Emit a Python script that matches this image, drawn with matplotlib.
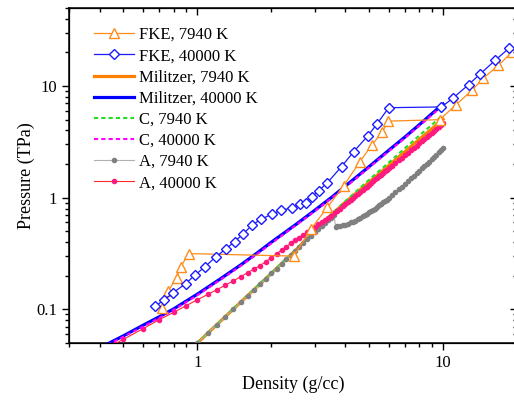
import matplotlib
matplotlib.use("Agg")
import matplotlib.pyplot as plt
from matplotlib.ticker import NullFormatter, FixedLocator, LogLocator

plt.rcParams['font.family'] = ['Liberation Serif', 'DejaVu Serif']

# FKE data (open markers)
fke_7940_rho = [0.72, 0.76, 0.822, 0.855, 0.92, 2.47, 2.89, 3.38, 3.94, 4.57, 5.14, 5.65, 5.98,
                9.69, 11.3, 13.1, 14.6, 16.8, 19.1]
fke_7940_p = [0.103, 0.146, 0.192, 0.24, 0.316, 0.30, 0.52, 0.82, 1.28, 2.08, 2.98, 3.86, 4.85,
              5.0, 6.8, 9.15, 11.8, 15.3, 20.2]

fke_40000_rho = [0.671, 0.732, 0.796, 0.896, 0.975, 1.074, 1.187, 1.31, 1.42, 1.54, 1.67, 1.82,
                 2.02, 2.18, 2.43, 2.61, 2.76, 2.93, 3.12, 3.38, 3.86, 4.33, 4.94, 5.36, 6.01,
                 9.85, 10.98, 12.7, 14.2, 16.3, 18.5]
fke_40000_p = [0.107, 0.121, 0.141, 0.170, 0.202, 0.241, 0.295, 0.35, 0.405, 0.478, 0.568, 0.645,
               0.714, 0.772, 0.808, 0.875, 0.90, 1.02, 1.16, 1.36, 1.90, 2.59, 3.58, 4.53, 6.40,
               6.5, 7.8, 10.3, 12.9, 17.0, 21.7]

# Militzer curves
mil_7940_rho = [1.0, 1.2, 1.5, 2.0, 2.5, 3.0, 3.5, 4.0, 5.0, 6.0, 7.0, 8.0, 9.0, 10.0]
mil_7940_p = [0.050, 0.073, 0.116, 0.21, 0.335, 0.50, 0.70, 0.91, 1.38, 1.94, 2.59, 3.33, 4.14, 5.05]

mil_40000_rho = [0.43, 0.5, 0.6, 0.7, 0.8, 1.0, 1.25, 1.5, 1.75, 2.0, 2.5, 3.0, 3.5, 4.0, 5.0,
                 6.0, 7.0, 8.0, 9.0, 10.0]
mil_40000_p = [0.049, 0.058, 0.072, 0.086, 0.101, 0.137, 0.19, 0.25, 0.32, 0.40, 0.57, 0.77, 1.0,
               1.27, 1.9, 2.65, 3.5, 4.5, 5.65, 6.9]

# C model
c_7940_rho = [1.0, 1.5, 2.0, 2.5, 3.0, 3.5, 4.0, 5.0, 6.0, 7.0, 8.0, 9.0, 10.0]
c_7940_p = [0.050, 0.117, 0.212, 0.34, 0.50, 0.71, 0.93, 1.45, 2.06, 2.78, 3.6, 4.5, 5.5]

c_40000_rho = [0.43, 0.5, 0.6, 0.7, 0.8, 1.0, 1.25, 1.5, 1.75, 2.0, 2.5, 3.0, 3.5, 4.0, 5.0,
               6.0, 7.0, 8.0, 9.0, 10.0]
c_40000_p = [0.048, 0.057, 0.070, 0.084, 0.099, 0.134, 0.186, 0.245, 0.313, 0.39, 0.56, 0.755,
             0.98, 1.24, 1.86, 2.6, 3.43, 4.4, 5.5, 6.7]

# A model
a_7940_rho = [1.0, 1.1, 1.2, 1.3, 1.4, 1.5, 1.6, 1.7, 1.8, 1.9, 2.0, 2.1, 2.2, 2.3, 2.4, 2.5,
              2.6, 2.7, 2.8, 2.9, 3.0, 3.1, 3.2, 3.3, 3.4, 3.5, 3.6, 3.65,
              3.7, 3.8, 3.9, 4.0, 4.1, 4.2, 4.3, 4.4, 4.5, 4.6, 4.7, 4.8, 4.9, 5.0, 5.1, 5.2,
              5.3, 5.4, 5.5, 5.6, 5.7, 5.8, 5.9, 6.0, 6.2, 6.4, 6.6, 6.8, 7.0, 7.2, 7.4, 7.6,
              7.8, 8.0, 8.2, 8.4, 8.6, 8.8, 9.0, 9.2, 9.4, 9.6, 9.8, 10.0]
a_7940_p = [0.050, 0.061, 0.073, 0.086, 0.10, 0.116, 0.132, 0.149, 0.168, 0.188, 0.21, 0.232,
            0.256, 0.28, 0.306, 0.333, 0.362, 0.392, 0.423, 0.455, 0.49, 0.525, 0.56, 0.595,
            0.63, 0.665, 0.70, 0.55,
            0.555, 0.56, 0.565, 0.575, 0.585, 0.60, 0.61, 0.625, 0.64, 0.66, 0.68, 0.70, 0.72,
            0.74, 0.76, 0.78, 0.80, 0.83, 0.86, 0.885, 0.91, 0.935, 0.96, 0.99, 1.05, 1.12,
            1.19, 1.26, 1.33, 1.41, 1.49, 1.57, 1.65, 1.74, 1.83, 1.92, 2.01, 2.11, 2.21, 2.32,
            2.43, 2.55, 2.67, 2.8]

a_40000_rho = [0.46, 0.5, 0.6, 0.7, 0.8, 0.9, 1.0, 1.1, 1.2, 1.3, 1.4, 1.5, 1.6, 1.7, 1.8, 1.9,
               2.0, 2.1, 2.2, 2.3, 2.4, 2.5, 2.6, 2.7, 2.8, 2.9, 3.0, 3.1, 3.2, 3.3, 3.4, 3.5,
               3.6, 3.7, 3.8, 3.9, 4.0, 4.1, 4.2, 4.3, 4.4, 4.5, 4.6, 4.7, 4.8, 4.9, 5.0, 5.1,
               5.2, 5.3, 5.4, 5.5, 5.6, 5.7, 5.8, 5.9, 6.0, 6.2, 6.4, 6.6, 6.8, 7.0, 7.2, 7.4,
               7.6, 7.8, 8.0, 8.2, 8.4, 8.6, 8.8, 9.0, 9.2, 9.4, 9.6, 9.8, 10.0]
a_40000_p = [0.049, 0.054, 0.067, 0.081, 0.094, 0.108, 0.122, 0.136, 0.150, 0.165, 0.180, 0.196,
             0.213, 0.23, 0.247, 0.268, 0.29, 0.315, 0.34, 0.365, 0.39, 0.415, 0.44, 0.465,
             0.49, 0.52, 0.55, 0.58, 0.61, 0.635, 0.66, 0.69,
             0.726, 0.763, 0.80, 0.84, 0.88, 0.92, 0.96, 1.0, 1.04, 1.08, 1.13, 1.17, 1.22,
             1.26, 1.31, 1.36, 1.41, 1.46, 1.51, 1.56, 1.61, 1.66, 1.72, 1.77, 1.83, 1.94,
             2.05, 2.17, 2.29, 2.42, 2.54, 2.67, 2.80, 2.93, 3.07, 3.21, 3.35, 3.50, 3.65,
             3.80, 3.95, 4.10, 4.26, 4.45, 4.68]

fig = plt.figure(figsize=(5.14, 4.01), dpi=100)
ax = fig.add_axes([69 / 514, 58 / 401, 448 / 514, 335 / 401])

ax.plot(mil_7940_rho, mil_7940_p, color='#ff7f00', lw=2.3, label='Militzer, 7940 K', zorder=3)
ax.plot(c_7940_rho, c_7940_p, color='#22dd22', lw=1.5, ls=(0, (2, 1.5)), label='C, 7940 K', zorder=4)
ax.plot(a_7940_rho, a_7940_p, color='#b0b0b0', lw=0.8, marker='o', ms=3.0,
        mfc='#808080', mec='#808080', label='A, 7940 K', zorder=4)
ax.plot(a_40000_rho, a_40000_p, color='#ff2a2a', lw=0.8, marker='o', ms=3.0,
        mfc='#ff1a80', mec='#ff1a80', label='A, 40000 K', zorder=4)
ax.plot(mil_40000_rho, mil_40000_p, color='#0000ff', lw=2.3, label='Militzer, 40000 K', zorder=3)
ax.plot(c_40000_rho, c_40000_p, color='#ff00ff', lw=1.5, ls=(0, (2, 1.5)), label='C, 40000 K', zorder=4)
ax.plot(fke_7940_rho, fke_7940_p, color='#ff8c1a', lw=0.9, marker='^', ms=7,
        mfc='white', mec='#ff8c1a', mew=1.0, label='FKE, 7940 K', zorder=5)
ax.plot(fke_40000_rho, fke_40000_p, color='#1a1aff', lw=0.9, marker='D', ms=5.5,
        mfc='white', mec='#1a1aff', mew=1.0, label='FKE, 40000 K', zorder=5)

ax.set_xscale('log')
ax.set_yscale('log')
ax.set_xlim(0.3, 20)
ax.set_ylim(0.05, 50)

ax.xaxis.set_major_locator(FixedLocator([1, 10]))
ax.set_xticklabels(['1', '10'])
ax.xaxis.set_minor_locator(LogLocator(base=10, subs=range(2, 10)))
ax.xaxis.set_minor_formatter(NullFormatter())
ax.yaxis.set_major_locator(FixedLocator([0.1, 1, 10]))
ax.set_yticklabels(['0.1', '1', '10'])
ax.yaxis.set_minor_locator(LogLocator(base=10, subs=range(2, 10)))
ax.yaxis.set_minor_formatter(NullFormatter())

ax.tick_params(which='major', direction='out', length=5, width=1, labelsize=12)
ax.tick_params(which='minor', direction='out', length=3, width=1)
for s in ax.spines.values():
    s.set_linewidth(1.1)

# mirrored ticks pointing inward on top and right
axt = ax.twiny()
axt.set_xscale('log')
axt.set_xlim(ax.get_xlim())
axt.xaxis.set_major_locator(FixedLocator([1, 10]))
axt.xaxis.set_minor_locator(LogLocator(base=10, subs=range(2, 10)))
axt.tick_params(which='major', direction='in', length=5, width=1, labeltop=False)
axt.tick_params(which='minor', direction='in', length=3, width=1)
axr = ax.twinx()
axr.set_yscale('log')
axr.set_ylim(ax.get_ylim())
axr.yaxis.set_major_locator(FixedLocator([0.1, 1, 10]))
axr.yaxis.set_minor_locator(LogLocator(base=10, subs=range(2, 10)))
axr.tick_params(which='major', direction='in', length=5, width=1, labelright=False)
axr.tick_params(which='minor', direction='in', length=3, width=1)

ax.set_xlabel('Density (g/cc)', fontsize=13, labelpad=3.5)
ax.set_ylabel('Pressure (TPa)', fontsize=13, labelpad=1)

handles, labels = ax.get_legend_handles_labels()
order = ['FKE, 7940 K', 'FKE, 40000 K', 'Militzer, 7940 K', 'Militzer, 40000 K',
         'C, 7940 K', 'C, 40000 K', 'A, 7940 K', 'A, 40000 K']
hmap = dict(zip(labels, handles))
ax.legend([hmap[k] for k in order], order, loc='upper left', bbox_to_anchor=(0.055, 0.943),
          frameon=False, fontsize=12, handlelength=2.4, handletextpad=0.3,
          labelspacing=0.31, borderpad=0, borderaxespad=0)

fig.savefig('out.png', dpi=100)
